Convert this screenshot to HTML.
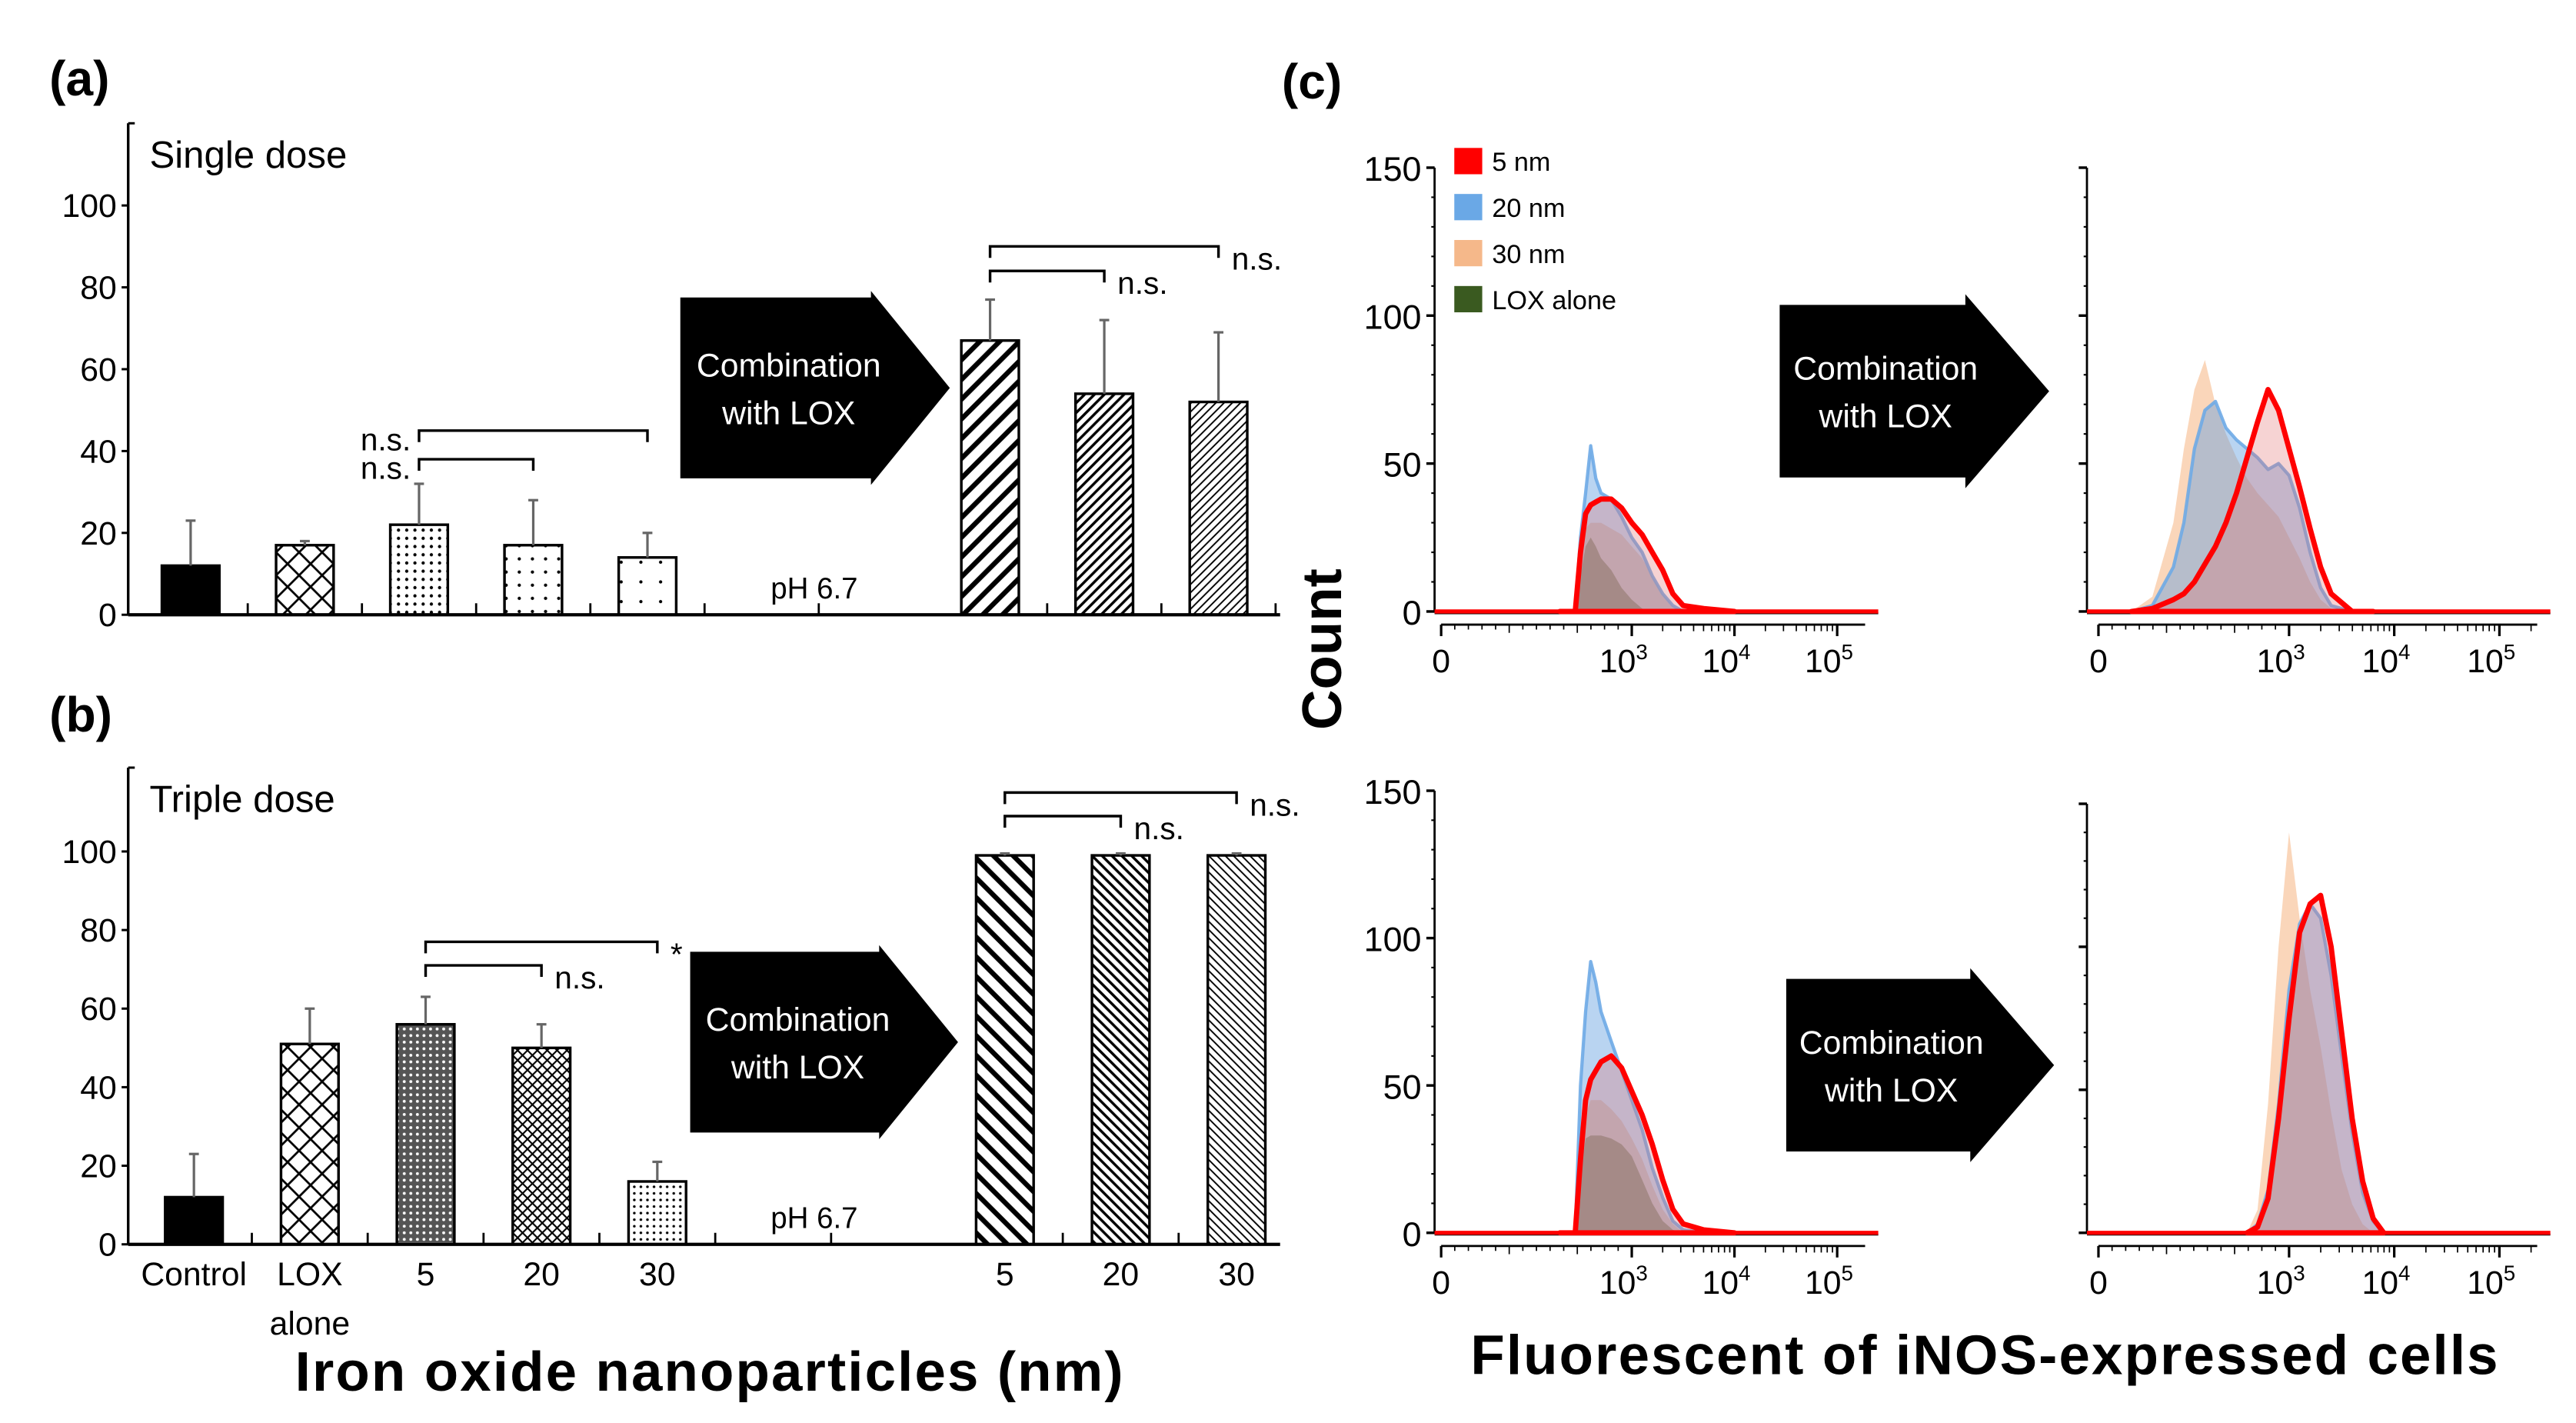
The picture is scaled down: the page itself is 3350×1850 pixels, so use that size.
<!DOCTYPE html>
<html><head><meta charset="utf-8">
<style>
html,body{margin:0;padding:0;background:#fff;}
svg{display:block;font-family:"Liberation Sans",Arial,sans-serif;}
</style></head>
<body>
<svg id="fig" xmlns="http://www.w3.org/2000/svg" width="3350" height="1850" viewBox="0 0 1567.6 865.7">
<defs>
  <pattern id="p-cross" patternUnits="userSpaceOnUse" width="14" height="14"><path d="M0,0L14,14M14,0L0,14" stroke="#000" stroke-width="1.3"/></pattern>
  <pattern id="p-dot1" patternUnits="userSpaceOnUse" width="5" height="5"><circle cx="2.5" cy="2.5" r="1" fill="#000"/></pattern>
  <pattern id="p-dot2" patternUnits="userSpaceOnUse" width="8" height="8"><circle cx="4" cy="4" r="1" fill="#000"/></pattern>
  <pattern id="p-dot3" patternUnits="userSpaceOnUse" width="12" height="12"><circle cx="6" cy="6" r="1" fill="#000"/></pattern>
  <pattern id="p-dense" patternUnits="userSpaceOnUse" width="4" height="4"><rect width="4" height="4" fill="#555"/><circle cx="2" cy="2" r="0.9" fill="#fff"/></pattern>
  <pattern id="p-mesh" patternUnits="userSpaceOnUse" width="6" height="6"><path d="M0,0L6,6M6,0L0,6" stroke="#000" stroke-width="1"/></pattern>
  <pattern id="p-fdot" patternUnits="userSpaceOnUse" width="4" height="4"><circle cx="2" cy="2" r="0.8" fill="#000"/></pattern>
  <pattern id="p-r1" patternUnits="userSpaceOnUse" width="12" height="12"><path d="M-3,15L15,-3M-3,3L3,-3M9,15L15,9" stroke="#000" stroke-width="3"/></pattern>
  <pattern id="p-r2" patternUnits="userSpaceOnUse" width="6" height="6"><path d="M-2,8L8,-2M-2,2L2,-2M4,8L8,4" stroke="#000" stroke-width="1.6"/></pattern>
  <pattern id="p-r3" patternUnits="userSpaceOnUse" width="5" height="5"><path d="M-2,7L7,-2M-2,2L2,-2M3,7L7,3" stroke="#000" stroke-width="0.9"/></pattern>
  <pattern id="p-l1" patternUnits="userSpaceOnUse" width="12" height="12"><path d="M-3,-3L15,15M-3,9L3,15M9,-3L15,3" stroke="#000" stroke-width="3"/></pattern>
  <pattern id="p-l2" patternUnits="userSpaceOnUse" width="6" height="6"><path d="M-2,-2L8,8M-2,4L2,8M4,-2L8,2" stroke="#000" stroke-width="1.6"/></pattern>
  <pattern id="p-l3" patternUnits="userSpaceOnUse" width="5" height="5"><path d="M-2,-2L7,7M-2,3L2,7M3,-2L7,2" stroke="#000" stroke-width="0.9"/></pattern>
</defs>
<g id="root"></g>
</svg>
<script>
// ---------- data: panel (a) single dose ----------
const catsA = ["Control","LOX alone","5","20","30","5","20","30"];
const slotsA = [0,1,2,3,4,7,8,9];
const valsA = [12,17,22,17,14,67,54,52];
const errA = [11,1,10,11,6,10,18,17];
// ---------- data: panel (b) triple dose ----------
const valsB = [12,51,56,50,16,99,99,99];
const errB = [11,9,7,6,5,0.5,0.5,0.5];
const yTicksBar = [0,20,40,60,80,100];
// ---------- data: histograms (c) ----------
const decTL = [2.3,2.45,2.5,2.55,2.6,2.65,2.7,2.8,2.9,3.0,3.1,3.2,3.3,3.4,3.5,3.7,4.0];
const tlRed = [0,0,20,33,36,37,38,38,35,30,26,20,14,6,2,1,0];
const tlBlue = [0,0,25,40,56,45,40,38,32,25,20,12,6,2,0,0,0];
const tlOrange = [0,0,18,28,30,30,30,28,26,22,18,12,6,2,0,0,0];
const tlGreen = [0,0,12,22,25,22,18,14,8,4,1,0,0,0,0,0,0];
const decTR = [1.5,1.7,1.9,2.0,2.1,2.2,2.3,2.4,2.5,2.6,2.7,2.8,2.9,3.0,3.1,3.2,3.3,3.4,3.6,3.8];
const trRed = [0,1,4,6,10,16,22,30,40,52,64,75,68,55,42,28,15,6,0,0];
const trBlue = [0,2,15,30,55,68,71,62,58,55,52,48,50,46,35,20,8,2,0,0];
const trOrange = [0,5,30,55,75,85,70,60,52,45,40,36,32,25,18,10,4,1,0,0];
const decBL = [2.3,2.45,2.5,2.55,2.6,2.65,2.7,2.8,2.9,3.0,3.1,3.2,3.3,3.4,3.5,3.7,4.0];
const blRed = [0,0,25,45,52,55,58,60,56,48,40,30,18,8,3,1,0];
const blBlue = [0,0,50,75,92,85,75,65,55,45,35,22,12,4,1,0,0];
const blOrange = [0,0,25,40,45,45,45,42,38,32,25,16,8,3,0,0,0];
const blGreen = [0,0,20,32,33,33,33,32,30,26,18,10,4,1,0,0,0];
const decBR = [2.6,2.7,2.8,2.9,3.0,3.1,3.2,3.3,3.4,3.5,3.6,3.7,3.8,3.9];
const brRed = [0,2,12,40,75,105,115,118,100,70,40,18,5,0];
const brBlue = [0,3,15,45,85,108,115,110,90,62,35,14,4,0];
const brOrange = [0,8,45,100,140,110,85,65,42,22,10,3,0,0];
const histTicks = [0,50,100,150];

const NS="http://www.w3.org/2000/svg";
const root=document.getElementById('root');
function mk(tag,attrs,parent,text){const e=document.createElementNS(NS,tag);for(const k in attrs)e.setAttribute(k,attrs[k]);if(text!==undefined)e.textContent=text;(parent||root).appendChild(e);return e;}

const patsA=["#000","url(#p-cross)","url(#p-dot1)","url(#p-dot2)","url(#p-dot3)","url(#p-r1)","url(#p-r2)","url(#p-r3)"];
const patsB=["#000","url(#p-cross)","url(#p-dense)","url(#p-mesh)","url(#p-fdot)","url(#p-l1)","url(#p-l2)","url(#p-l3)"];

function barPanel(o){
  const g=mk('g',{});
  
  
  const y=v=>o.base-v*o.k;
  const cx=s=>o.x0+s*o.step;
  mk('line',{x1:o.ax,y1:o.top,x2:o.ax,y2:o.base,stroke:'#000','stroke-width':1.6},g);
  mk('line',{x1:o.ax,y1:o.top,x2:o.ax+4,y2:o.top,stroke:'#000','stroke-width':1.4},g);
  mk('line',{x1:o.ax,y1:o.base,x2:779,y2:o.base,stroke:'#000','stroke-width':2},g);
  yTicksBar.forEach(t=>{
    mk('line',{x1:o.ax-4,y1:y(t),x2:o.ax,y2:y(t),stroke:'#000','stroke-width':1.4},g);
    const tx=mk('text',{x:o.ax-7,y:y(t)+7,'font-size':20,'text-anchor':'end'},g,String(t));
    
  });
  for(let s=0;s<=10;s++){ if(s===6) continue; const xx=cx(s)+o.step/2; if(xx>779)continue;
    mk('line',{x1:xx,y1:o.base,x2:xx,y2:o.base-7,stroke:'#000','stroke-width':1.3},g);}
  o.vals.forEach((v,i)=>{
    const c=cx(slotsA[i]);const w=35;
    const r=mk('rect',{x:c-w/2,y:y(v),width:w,height:v*o.k,fill:o.pats[i],stroke:'#000','stroke-width':1.6},g);
    
    
    mk('line',{x1:c,y1:y(v),x2:c,y2:y(v+o.err[i]),stroke:'#666','stroke-width':1.5},g);
    mk('line',{x1:c-3,y1:y(v+o.err[i]),x2:c+3,y2:y(v+o.err[i]),stroke:'#666','stroke-width':1.5},g);
  });
  const t=mk('text',{x:o.ax+13,y:o.top+27,'font-size':23},g,o.title);
  
  mk('text',{x:469,y:o.base-10,'font-size':18},g,'pH 6.7');
  o.brackets.forEach(b=>{
    const x1=cx(slotsA[b[0]]),x2=cx(slotsA[b[1]]),yy=y(b[2]);
    mk('path',{d:`M${x1},${yy+7}V${yy}H${x2}V${yy+7}`,fill:'none',stroke:'#000','stroke-width':1.6},g);
    const lt=b[3]==='L'?mk('text',{x:x1-5,y:yy+12,'font-size':19,'text-anchor':'end'},g,b[4]):mk('text',{x:x2+8,y:yy+14,'font-size':19},g,b[4]);
    
  });
}
barPanel({name:'panel-a-chart',ax:78,top:75,base:374,k:2.49,x0:116,step:69.5,vals:valsA,err:errA,pats:patsA,title:'Single dose',
  brackets:[[2,3,38,'L','n.s.'],[2,4,45,'L','n.s.'],[5,6,84,'R','n.s.'],[5,7,90,'R','n.s.']]});
barPanel({name:'panel-b-chart',ax:78,top:467,base:757,k:2.39,x0:118,step:70.5,vals:valsB,err:errB,pats:patsB,title:'Triple dose',
  brackets:[[2,3,71,'R','n.s.'],[2,4,77,'R','*'],[5,6,109,'R','n.s.'],[5,7,115,'R','n.s.']]});

const lblX=[118,188.5,259,329.5,400,611.5,682,752.5];
catsA.forEach((c,i)=>{
  const parts=c==='LOX alone'?['LOX','alone']:[c];
  parts.forEach((p,j)=>{const t=mk('text',{x:lblX[i],y:782+j*30,'font-size':20,'text-anchor':'middle'},root,p);
    });
});

function arrow(x0,x1,tip,cy,bh,hh,name){
  const g=mk('g',{});
  mk('path',{d:`M${x0},${cy-bh/2}H${x1}V${cy-hh/2}L${tip},${cy}L${x1},${cy+hh/2}V${cy+bh/2}H${x0}Z`,fill:'#000'},g);
  mk('text',{x:(x0+x1)/2+8,y:cy-7,'font-size':20,'text-anchor':'middle',fill:'#fff'},g,'Combination');
  mk('text',{x:(x0+x1)/2+8,y:cy+22,'font-size':20,'text-anchor':'middle',fill:'#fff'},g,'with LOX');
}
arrow(414,530,578,236,110,118,'arrow-a');
arrow(420,535,583,634,110,118,'arrow-b');
arrow(1083,1196,1247,238,105,118,'arrow-c-top');
arrow(1087,1199,1250,648,105,118,'arrow-c-bottom');

[['(a)',30,58],['(b)',30,445],['(c)',780,60]].forEach(p=>{
  const t=mk('text',{x:p[1],y:p[2],'font-size':30,'font-weight':'bold'},root,p[0]);});

function histPanel(o){
  const g=mk('g',{});
  const y=v=>o.base-v*o.k;
  const x=d=>o.x3+(d-3)*o.dx;
  mk('line',{x1:o.ax,y1:y(150),x2:o.ax,y2:o.base,stroke:'#000','stroke-width':1.3},g);
  mk('line',{x1:o.ax,y1:o.base+1,x2:o.xend,y2:o.base+1,stroke:'#000','stroke-width':1.3},g);
  for(let v=0;v<=150;v+=10) mk('line',{x1:o.ax-2,y1:y(v),x2:o.ax,y2:y(v),stroke:'#000','stroke-width':1},g);
  histTicks.forEach(t=>{mk('line',{x1:o.ax-5,y1:y(t),x2:o.ax,y2:y(t),stroke:'#000','stroke-width':1.6},g);
    if(o.labels){const tx=mk('text',{x:o.ax-8,y:y(t)+8,'font-size':21,'text-anchor':'end'},g,String(t));}});
  const ya=o.base+8;
  mk('line',{x1:o.x0,y1:ya,x2:o.xend-8,y2:ya,stroke:'#000','stroke-width':1.3},g);
  [o.x0,x(3),x(4),x(5)].forEach(xx=>mk('line',{x1:xx,y1:ya,x2:xx,y2:ya+7,stroke:'#000','stroke-width':1.5},g));
  for(let d=3;d<5.4;d+=1){for(let m=2;m<10;m++){const xx=x(d+Math.log10(m));if(xx<o.xend-8)mk('line',{x1:xx,y1:ya,x2:xx,y2:ya+4,stroke:'#000','stroke-width':0.8},g);}}
  for(let i=1;i<14;i++){const xx=o.x0+i*(x(3)-o.x0)/14;mk('line',{x1:xx,y1:ya,x2:xx,y2:ya+(i%5?3:5),stroke:'#000','stroke-width':0.8},g);}
  const ly=o.base+37;
  mk('text',{x:o.x0,y:ly,'font-size':20,'text-anchor':'middle'},g,'0');
  [3,4,5].forEach(d=>{const t=mk('text',{x:x(d)-5,y:ly,'font-size':20,'text-anchor':'middle'},g,'10');
    mk('tspan',{dy:-8,'font-size':13},t,String(d));});
  const series=[[o.orange,'rgba(246,180,130,0.55)','none','series-30nm'],[o.blue,'rgba(100,160,225,0.45)','rgba(110,170,230,0.9)','series-20nm'],[o.green,'rgba(60,80,40,0.35)','none','series-lox-alone'],[o.red,'rgba(225,110,110,0.3)','#ff0000','series-5nm']];
  series.forEach(s=>{ if(!s[0])return;
    let d=`M${x(o.dec[0])},${o.base}`;
    s[0].forEach((v,i)=>{d+=`L${x(o.dec[i]).toFixed(1)},${y(v).toFixed(1)}`;});
    d+=`L${x(o.dec[o.dec.length-1])},${o.base}Z`;
    const p=mk('path',{d:d,fill:s[1],stroke:s[2],'stroke-width':s[2]==='#ff0000'?3.2:2,'stroke-linejoin':'round'},g);
    
  });
  mk('line',{x1:o.ax,y1:o.base,x2:o.xend,y2:o.base,stroke:'#ff0000','stroke-width':2.5},g);
}
histPanel({name:'hist-top-left',ax:873,base:372,k:1.8,x0:877,x3:993,dx:62.5,xend:1143,dec:decTL,red:tlRed,blue:tlBlue,orange:tlOrange,green:tlGreen,labels:true});
histPanel({name:'hist-top-right',ax:1270,base:372,k:1.8,x0:1277,x3:1393,dx:64,xend:1552,dec:decTR,red:trRed,blue:trBlue,orange:trOrange,labels:false});
histPanel({name:'hist-bottom-left',ax:873,base:750,k:1.793,x0:877,x3:993,dx:62.5,xend:1143,dec:decBL,red:blRed,blue:blBlue,orange:blOrange,green:blGreen,labels:true});
histPanel({name:'hist-bottom-right',ax:1270,base:750,k:1.74,x0:1277,x3:1393,dx:64,xend:1552,dec:decBR,red:brRed,blue:brBlue,orange:brOrange,labels:false});

const legNames=['5 nm','20 nm','30 nm','LOX alone'];
const legCols=['#ff0000','#6aa8e6','#f5b88a','#3a5a20'];
legNames.forEach((n,i)=>{
  const g=mk('g',{});
  mk('rect',{x:885,y:90+i*28,width:17,height:16,fill:legCols[i]},g);
  mk('text',{x:908,y:104+i*28,'font-size':16},g,n);
});

const c1=mk('text',{x:0,y:0,'font-size':34,'font-weight':'bold','text-anchor':'middle',transform:'translate(816,395) rotate(-90)'},root,'Count');

const c2=mk('text',{x:1208,y:836,'font-size':34,'font-weight':'bold','text-anchor':'middle','letter-spacing':'1'},root,'Fluorescent of iNOS-expressed cells');

const c3=mk('text',{x:432,y:846,'font-size':34,'font-weight':'bold','text-anchor':'middle','letter-spacing':'1'},root,'Iron oxide nanoparticles (nm)');

</script>
</body></html>
